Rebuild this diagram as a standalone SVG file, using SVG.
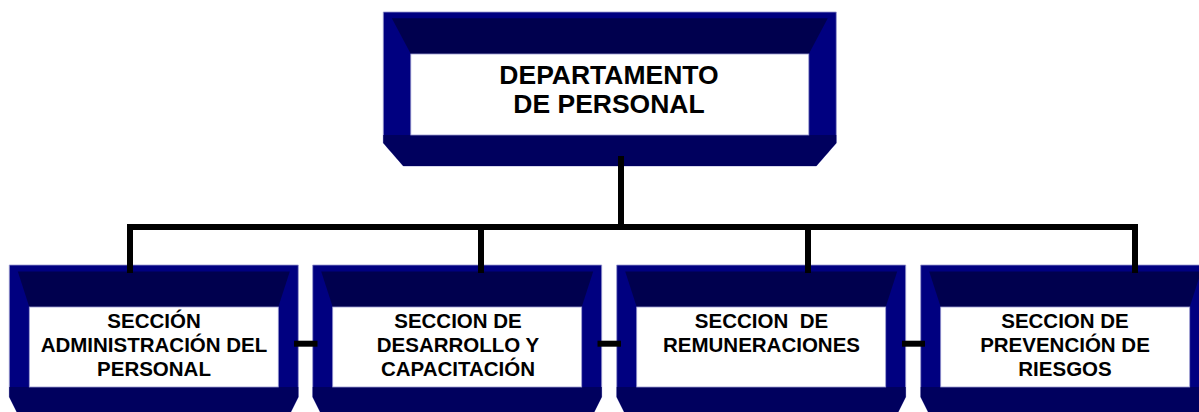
<svg xmlns="http://www.w3.org/2000/svg" width="1199" height="412" viewBox="0 0 1199 412">
  <defs>
    <style>
      .side{fill:#000080;stroke:#9a9ad0;stroke-width:0.8}
      .topf{fill:#00004e}
      .botf{fill:#00005e}
      .face{fill:#ffffff;stroke:#9a9ad0;stroke-width:0.8}
      .lbl{font-family:"Liberation Sans",Arial,sans-serif;font-weight:bold;fill:#000000;text-anchor:middle}
      .big{font-size:26.5px}
      .sm{font-size:20.5px}
      .conn{stroke:#000000;stroke-width:6;fill:none;stroke-linecap:butt}
    </style>
    <g id="bbox">
      <polygon class="side" points="0,0 289,0 289,132 279,152 10,152 0,132"/>
      <polygon class="topf" points="8.5,6.5 280.5,6.5 269,42 20,42"/>
      <polygon class="botf" points="0,122 289,122 289,132 279,152 10,152 0,132"/>
      <rect class="face" x="20" y="42" width="249" height="80"/>
    </g>
  </defs>

  <g id="node-departamento">
    <g transform="translate(383.3,12)">
      <polygon class="side" points="0,0 453,0 453,131 433,154 20,154 0,131"/>
      <polygon class="topf" points="8.5,6.3 444.5,6.3 425.5,42 27.5,42"/>
      <polygon class="botf" points="0,123 453,123 453,131 433,154 20,154 0,131"/>
      <rect class="face" x="27.5" y="42" width="398" height="81"/>
    </g>
    <text class="lbl big" x="609" y="84">DEPARTAMENTO</text>
    <text class="lbl big" x="609" y="112.5">DE PERSONAL</text>
  </g>

  <g id="node-administracion">
    <use href="#bbox" transform="translate(9.3,265)"/>
    <text class="lbl sm" x="154" y="327.5">SECCIÓN</text>
    <text class="lbl sm" x="154" y="351.5">ADMINISTRACIÓN DEL</text>
    <text class="lbl sm" x="154" y="375.5">PERSONAL</text>
  </g>

  <g id="node-desarrollo">
    <use href="#bbox" transform="translate(312.7,265)"/>
    <text class="lbl sm" x="458" y="327.5">SECCION DE</text>
    <text class="lbl sm" x="458" y="351.5">DESARROLLO Y</text>
    <text class="lbl sm" x="458" y="375.5">CAPACITACIÓN</text>
  </g>

  <g id="node-remuneraciones">
    <use href="#bbox" transform="translate(616.7,265)"/>
    <text class="lbl sm" x="761.5" y="327.5">SECCION&#160; DE</text>
    <text class="lbl sm" x="761.5" y="351.5">REMUNERACIONES</text>
  </g>

  <g id="node-prevencion">
    <use href="#bbox" transform="translate(920.7,265)"/>
    <text class="lbl sm" x="1065" y="327.5">SECCION DE</text>
    <text class="lbl sm" x="1065" y="351.5">PREVENCIÓN DE</text>
    <text class="lbl sm" x="1065" y="375.5">RIESGOS</text>
  </g>

  <g id="connectors">
    <line class="conn" x1="621" y1="156" x2="621" y2="227"/>
    <line class="conn" x1="127" y1="227" x2="1138" y2="227"/>
    <line class="conn" x1="130" y1="227" x2="130" y2="273"/>
    <line class="conn" x1="481" y1="227" x2="481" y2="273"/>
    <line class="conn" x1="808" y1="227" x2="808" y2="273"/>
    <line class="conn" x1="1135" y1="227" x2="1135" y2="273"/>
    <line class="conn" x1="294" y1="343.7" x2="317.5" y2="343.7"/>
    <line class="conn" x1="597.5" y1="343.7" x2="621" y2="343.7"/>
    <line class="conn" x1="902" y1="343.7" x2="925" y2="343.7"/>
  </g>
</svg>
